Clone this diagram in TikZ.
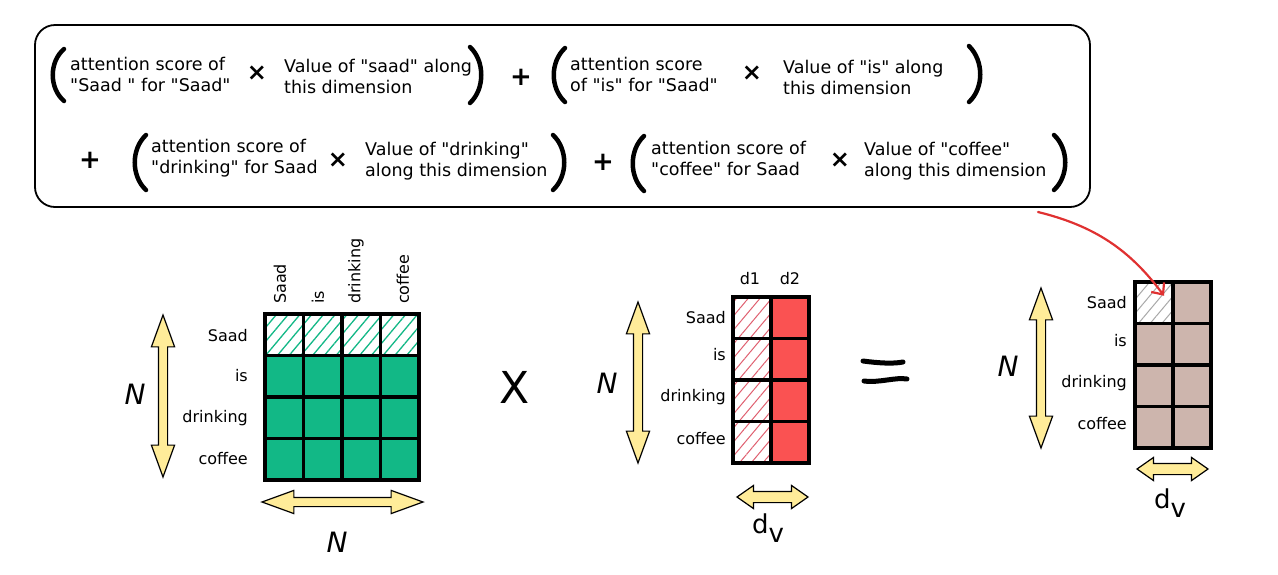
\documentclass[tikz,border=0pt]{standalone}
\usepackage{fontspec}
\setmainfont{DejaVu Sans}[Ligatures=TeXOff]
\usetikzlibrary{shapes.arrows,patterns.meta,arrows.meta}
\definecolor{grn}{HTML}{12B886}
\definecolor{redc}{HTML}{FA5252}
\definecolor{redh}{HTML}{E06070}
\definecolor{brn}{HTML}{CDB5AD}
\definecolor{ylw}{HTML}{FFEC99}
\definecolor{arrred}{HTML}{E03131}
\definecolor{hgray}{HTML}{A8A8A8}
\tikzset{
  txt/.style={font=\fontsize{17.5}{21}\selectfont, align=left, anchor=west, inner sep=0pt},
  tms/.style={font=\fontsize{24}{24}\selectfont\bfseries, inner sep=0pt},
  pls/.style={font=\fontsize{26}{26}\selectfont\bfseries, inner sep=0pt},
  paren/.style={line width=4.5pt, line cap=round},
  lbl/.style={font=\fontsize{16}{16}\selectfont, inner sep=0pt},
  rowlbl/.style={lbl, anchor=east},
  collbl/.style={lbl, anchor=west, rotate=90},
  biglbl/.style={font=\fontsize{28}{28}\selectfont\itshape, inner sep=0pt},
  cell/.style={draw=black, line width=3.6pt, minimum width=38.5pt, minimum height=41.5pt, inner sep=0pt},
  yarrow/.style={double arrow, draw=black, line width=1.2pt, fill=ylw, inner xsep=0pt, inner ysep=4pt,
    double arrow head extend=7pt, double arrow tip angle=40},
  sarrow/.style={yarrow, inner ysep=5pt, double arrow head extend=6pt, double arrow tip angle=70},
  hatchg/.style={pattern={Lines[angle=50,distance=9pt,line width=1.3pt]}, pattern color=grn},
  hatchr/.style={pattern={Lines[angle=50,distance=9pt,line width=1pt]}, pattern color=redh},
  hatchk/.style={pattern={Lines[angle=50,distance=9pt,line width=1pt]}, pattern color=hgray},
  redarrow/.style={draw=arrred, line width=2.2pt, line cap=round, -{Straight Barb[length=9pt,width=16pt,line width=2.2pt]}},
}
\begin{document}
\begin{tikzpicture}[x=1pt,y=-1pt]
\useasboundingbox (0,0) rectangle (1278,574);
\fill[white] (0,0) rectangle (1278,574);

% formula box
\node[draw=black, line width=1.8pt, rounded corners=20pt, minimum width=1055pt, minimum height=182pt, inner sep=0pt] (formula) at (562.5,116) {};

% row 1
\draw[paren] (64,49) .. controls (49,62) and (49,88) .. (64,101);
\node[txt] (t1) at (70,74) {attention score of\\"Saad " for "Saad"};
\node[tms] (x1) at (257,73) {×};
\node[txt] (t2) at (284,76) {Value of "saad" along\\this dimension};
\draw[paren] (470,47) .. controls (485,61) and (485,89) .. (470,103);
\node[pls] (p1) at (521,77) {+};
\draw[paren] (565,48) .. controls (550,62) and (550,88) .. (565,102);
\node[txt] (t3) at (570,74) {attention score\\of "is" for "Saad"};
\node[tms] (x2) at (752,73) {×};
\node[txt] (t4) at (783,77) {Value of "is" along\\this dimension};
\draw[paren] (969,46) .. controls (984,61) and (984,88) .. (969,102);

% row 2
\node[pls] (p2) at (90,160) {+};
\draw[paren] (146,135) .. controls (131,149) and (131,176) .. (146,190);
\node[txt] (t5) at (151,158) {attention score of\\"drinking" for Saad};
\node[tms] (x3) at (338,160) {×};
\node[txt] (t6) at (365,161) {Value of "drinking"\\along this dimension};
\draw[paren] (553,135) .. controls (568,149) and (568,176) .. (553,190);
\node[pls] (p3) at (603,162) {+};
\draw[paren] (644,136) .. controls (629,150) and (629,177) .. (644,191);
\node[txt] (t7) at (651,158) {attention score of\\"coffee" for Saad};
\node[tms] (x4) at (840,160) {×};
\node[txt] (t8) at (864,161) {Value of "coffee"\\along this dimension};
\draw[paren] (1054,135) .. controls (1069,149) and (1069,176) .. (1054,190);

% matrix 1 (attention)
\foreach \c [count=\i] in {284.25,322.75,361.25,399.75}{
  \node[cell, hatchg] (a1\i) at (\c,334.75) {};
  \foreach \r [count=\j from 2] in {376.25,417.75,459.25}{
    \node[cell, fill=grn] (a\j\i) at (\c,\r) {};
  }
}
\node[rowlbl] (ra1) at (248,336) {Saad};
\node[rowlbl] (ra2) at (248,376) {is};
\node[rowlbl] (ra3) at (248,418) {drinking};
\node[rowlbl] (ra4) at (248,459) {coffee};
\node[collbl] (ca1) at (280,304) {Saad};
\node[collbl] (ca2) at (318,304) {is};
\node[collbl] (ca3) at (356,304) {drinking};
\node[collbl] (ca4) at (403,304) {coffee};
\node[yarrow, rotate=90, minimum height=162pt] (va1) at (163,396) {};
\node[yarrow, minimum height=161pt] (ha1) at (342.5,502) {};
\node[biglbl] (na1) at (135,394) {N};
\node[biglbl] (na2) at (337,542) {N};

% times sign
\node[font=\fontsize{44}{44}\selectfont, inner sep=0pt] (times) at (515,387) {X};

% matrix 2 (values)
\foreach \r [count=\j] in {317.75,359.25,400.75,442.25}{
  \node[cell, hatchr] (v\j1) at (752,\r) {};
  \node[cell, fill=redc] (v\j2) at (790,\r) {};
}
\node[lbl] (d1) at (750,279) {d1};
\node[lbl] (d2) at (790,279) {d2};
\node[rowlbl] (rv1) at (726,318) {Saad};
\node[rowlbl] (rv2) at (726,355) {is};
\node[rowlbl] (rv3) at (726,397) {drinking};
\node[rowlbl] (rv4) at (726,439) {coffee};
\node[yarrow, rotate=90, minimum height=161pt] (vv) at (638,382.5) {};
\node[sarrow, minimum height=71pt] (hv) at (772.5,497) {};
\node[biglbl] (nv) at (607,383) {N};
\node[biglbl, font=\fontsize{26}{26}\selectfont, anchor=west] (dv1) at (752,528) {d\raisebox{-9pt}{v}};

% equals sign
\draw[line width=5pt, line cap=round] (863,361) .. controls (878,363) and (893,364) .. (903,362);
\draw[line width=5pt, line cap=round] (864,381) .. controls (880,383) and (895,377) .. (907,379);

% matrix 3 (output)
\foreach \r [count=\j] in {302.75,344.25,385.75,427.25}{
  \ifnum\j=1
    \node[cell, hatchk] (o\j1) at (1154,\r) {};
  \else
    \node[cell, fill=brn] (o\j1) at (1154,\r) {};
  \fi
  \node[cell, fill=brn] (o\j2) at (1192,\r) {};
}
\node[rowlbl] (ro1) at (1127,303) {Saad};
\node[rowlbl] (ro2) at (1127,341) {is};
\node[rowlbl] (ro3) at (1127,383) {drinking};
\node[rowlbl] (ro4) at (1127,424) {coffee};
\node[yarrow, rotate=90, minimum height=160pt] (vo) at (1041,368) {};
\node[sarrow, minimum height=71pt] (ho) at (1172.5,469) {};
\node[biglbl] (no) at (1008,366) {N};
\node[biglbl, font=\fontsize{26}{26}\selectfont, anchor=west] (dv2) at (1154,503) {d\raisebox{-9pt}{v}};

% red arrow
\coordinate (rs) at (1038,212);
\draw[redarrow] (rs) .. controls (1095,226) and (1130,250) .. ([shift={(10,-7)}]o11.center);
\end{tikzpicture}
\end{document}
